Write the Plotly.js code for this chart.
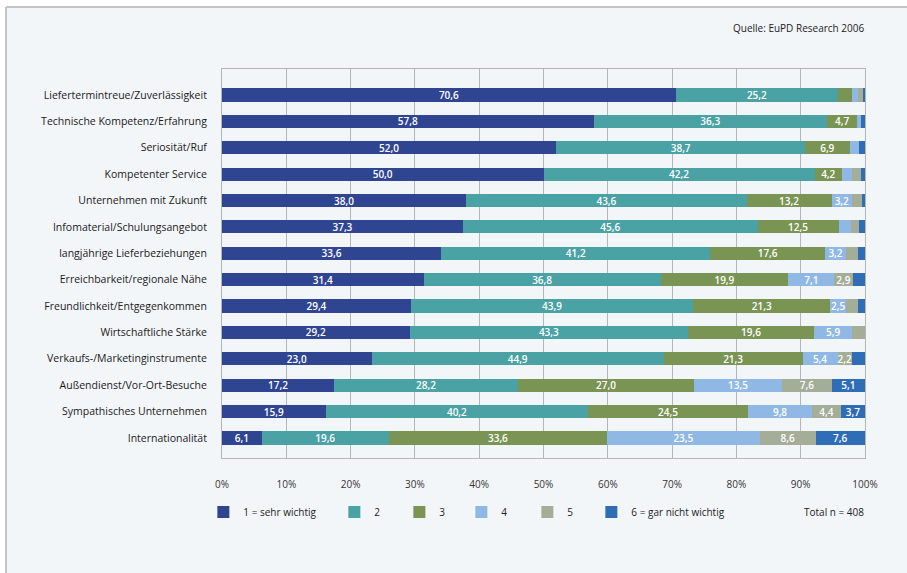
<!DOCTYPE html>
<html>
<head>
<meta charset="utf-8">
<script src="https://cdn.plot.ly/plotly-3.0.1.min.js"></script>
<style>html,body{margin:0;padding:0;background:#fff;}#chart{width:907px;height:573px;}</style>
</head>
<body>
<div id="chart"></div>
<script>
const categories = [
  "Liefertermintreue/Zuverlässigkeit",
  "Technische Kompetenz/Erfahrung",
  "Seriosität/Ruf",
  "Kompetenter Service",
  "Unternehmen mit Zukunft",
  "Infomaterial/Schulungsangebot",
  "langjährige Lieferbeziehungen",
  "Erreichbarkeit/regionale Nähe",
  "Freundlichkeit/Entgegenkommen",
  "Wirtschaftliche Stärke",
  "Verkaufs-/Marketinginstrumente",
  "Außendienst/Vor-Ort-Besuche",
  "Sympathisches Unternehmen",
  "Internationalität"
];
const seriesNames = ["1 = sehr wichtig", "2", "3", "4", "5", "6 = gar nicht wichtig"];
const s1 = [70.6, 57.8, 52.0, 50.0, 38.0, 37.3, 33.6, 31.4, 29.4, 29.2, 23.0, 17.2, 15.9, 6.1];
const s2 = [25.2, 36.3, 38.7, 42.2, 43.6, 45.6, 41.2, 36.8, 43.9, 43.3, 44.9, 28.2, 40.2, 19.6];
const s3 = [2.1, 4.7, 6.9, 4.2, 13.2, 12.5, 17.6, 19.9, 21.3, 19.6, 21.3, 27.0, 24.5, 33.6];
const s4 = [1.0, 0.6, 1.5, 1.5, 3.2, 2.0, 3.2, 7.1, 2.5, 5.9, 5.4, 13.5, 9.8, 23.5];
const s5 = [0.8, 0.0, 0.0, 1.4, 1.5, 1.1, 1.8, 2.9, 1.8, 2.0, 2.2, 7.6, 4.4, 8.6];
const s6 = [0.3, 0.6, 0.9, 0.7, 0.5, 1.0, 1.1, 1.9, 1.1, 0.0, 2.0, 5.1, 3.7, 7.6];
const seriesValues = [s1, s2, s3, s4, s5, s6];
const colors = ["#2f4592", "#4aa2a5", "#7a9453", "#8fb9e4", "#a3ad97", "#2f6db6"];
const xTicks = [0, 10, 20, 30, 40, 50, 60, 70, 80, 90, 100];
const legendWidths = [86, 20, 17, 21, 19, 0];

const fmt = v => v >= 2.2 ? v.toFixed(1).replace('.', ',') : '';

const traces = seriesValues.map((vals, i) => {
  const t = {
    type: 'bar',
    orientation: 'h',
    name: seriesNames[i],
    y: categories,
    x: vals,
    text: vals.map(fmt),
    textposition: 'inside',
    insidetextanchor: 'middle',
    textangle: 0,
    constraintext: 'none',
    insidetextfont: {family: 'Open Sans, sans-serif', size: 10, color: '#ffffff', weight: 600},
    marker: {color: colors[i], line: {width: 0}},
    width: 0.5,
    hoverinfo: 'name+x'
  };
  if (legendWidths[i]) t.legendwidth = legendWidths[i];
  return t;
});

const layout = {
  width: 907,
  height: 573,
  paper_bgcolor: '#ffffff',
  plot_bgcolor: '#ffffff',
  margin: {l: 222, r: 42, t: 69, b: 115},
  barmode: 'stack',
  barnorm: 'percent',
  font: {family: 'Open Sans, sans-serif', size: 10, color: '#222'},
  showlegend: true,
  legend: {
    orientation: 'h',
    x: -0.029, xanchor: 'left',
    y: -0.139, yanchor: 'middle',
    bgcolor: 'rgba(0,0,0,0)',
    font: {size: 10, color: '#222'},
    traceorder: 'normal'
  },
  xaxis: {
    range: [0, 100],
    tickvals: xTicks,
    ticktext: xTicks.map(v => v + '%'),
    showgrid: true,
    gridcolor: '#b5b5b5',
    gridwidth: 1,
    zeroline: false,
    showline: true,
    linecolor: '#b5b5b5',
    mirror: true,
    ticks: 'outside',
    ticklen: 17,
    tickcolor: 'rgba(0,0,0,0)',
    tickfont: {size: 10, color: '#333'},
    fixedrange: true
  },
  yaxis: {
    type: 'category',
    range: [13.76, -0.985],
    showgrid: false,
    zeroline: false,
    showline: true,
    linecolor: '#b5b5b5',
    mirror: true,
    ticks: 'outside',
    ticklen: 12,
    tickcolor: 'rgba(0,0,0,0)',
    tickfont: {size: 10.5, color: '#1a1a1a'},
    fixedrange: true
  },
  shapes: [
    {
      type: 'rect', xref: 'paper', yref: 'paper', layer: 'below',
      x0: -216 / 643, x1: 1 + 100 / 643,
      y0: -140 / 389, y1: 1 + 62 / 389,
      fillcolor: '#f3f6f9',
      line: {width: 0}
    },
    {
      type: 'line', xref: 'paper', yref: 'paper', layer: 'below',
      x0: -216 / 643, x1: 1 + 100 / 643,
      y0: 1 + 62 / 389, y1: 1 + 62 / 389,
      line: {color: '#c4c4c4', width: 2}
    },
    {
      type: 'line', xref: 'paper', yref: 'paper', layer: 'below',
      x0: -216 / 643, x1: -216 / 643,
      y0: -140 / 389, y1: 1 + 62 / 389,
      line: {color: '#c4c4c4', width: 2}
    }
  ],
  annotations: [
    {
      text: 'Quelle: EuPD Research 2006',
      xref: 'paper', yref: 'paper',
      x: 1.002, xanchor: 'right',
      y: 1 + 41 / 389, yanchor: 'middle',
      showarrow: false,
      font: {size: 10, color: '#222'}
    },
    {
      text: 'Total n = 408',
      xref: 'paper', yref: 'paper',
      x: 1.002, xanchor: 'right',
      y: -54 / 389, yanchor: 'middle',
      showarrow: false,
      font: {size: 10, color: '#222'}
    }
  ]
};

Plotly.newPlot('chart', traces, layout, {displayModeBar: false, staticPlot: true});
</script>
</body>
</html>
